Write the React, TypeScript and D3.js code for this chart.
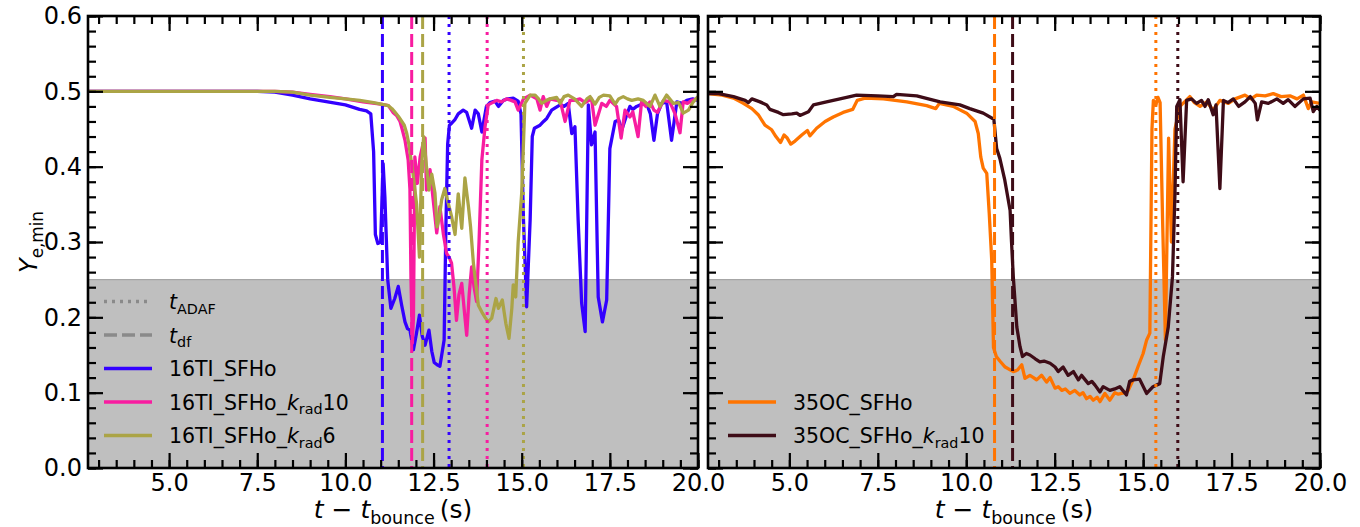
import { useEffect, useRef } from 'react'
import * as d3 from 'd3'

const WIDTH = 1360
const HEIGHT = 527
const TOP = 16
const BOTTOM = 468
const X_DOMAIN: [number, number] = [2.7, 20]
const Y_DOMAIN: [number, number] = [0, 0.6]
const SHADE_MAX = 0.25
const FONT = '"DejaVu Sans", sans-serif'

// tick labels
const X_MAJOR = [5, 7.5, 10, 12.5, 15, 17.5, 20]
const Y_MAJOR = [0, 0.1, 0.2, 0.3, 0.4, 0.5, 0.6]

const BLUE = '#3300ff'
const PINK = '#f81ca0'
const OLIVE = '#aba446'
const ORANGE = '#ff7400'
const MAROON = '#3e0c17'
const GUIDE = '#8a8a8a'

// 16TI_SFHo  (t - t_bounce [s], Ye,min)
const ti16: [number, number][] = [
  [2.7, 0.5], [3.5, 0.5], [4.5, 0.5], [5.5, 0.5], [6.5, 0.5], [7.5, 0.5], [8.0, 0.499],
  [8.5, 0.495], [9.0, 0.49], [9.5, 0.486], [10.0, 0.482], [10.4, 0.476], [10.6, 0.474],
  [10.72, 0.47], [10.8, 0.42], [10.85, 0.31], [10.92, 0.298], [11.0, 0.3], [11.07, 0.404],
  [11.12, 0.36], [11.2, 0.25], [11.29, 0.212], [11.4, 0.225], [11.5, 0.241], [11.6, 0.215],
  [11.69, 0.194], [11.76, 0.185], [11.83, 0.183], [11.88, 0.17], [11.93, 0.157], [12.02, 0.18],
  [12.1, 0.203], [12.18, 0.175], [12.26, 0.163], [12.37, 0.183], [12.45, 0.155], [12.52, 0.14],
  [12.6, 0.137], [12.68, 0.135], [12.8, 0.17], [12.85, 0.32], [12.9, 0.43], [12.95, 0.455],
  [13.02, 0.458], [13.1, 0.462], [13.2, 0.47], [13.34, 0.475], [13.44, 0.472], [13.58, 0.451],
  [13.68, 0.475], [13.77, 0.47], [13.87, 0.446], [14.0, 0.48], [14.1, 0.485], [14.24, 0.487],
  [14.34, 0.48], [14.48, 0.488], [14.6, 0.49], [14.76, 0.491], [14.9, 0.487], [14.98, 0.47],
  [15.05, 0.33], [15.14, 0.214], [15.24, 0.33], [15.3, 0.44], [15.36, 0.451], [15.52, 0.455],
  [15.62, 0.46], [15.71, 0.464], [15.85, 0.475], [15.95, 0.478], [16.09, 0.482], [16.2, 0.48],
  [16.32, 0.484], [16.42, 0.444], [16.51, 0.453], [16.6, 0.33], [16.7, 0.219], [16.8, 0.181],
  [16.89, 0.482], [16.98, 0.429], [17.08, 0.446], [17.17, 0.227], [17.29, 0.194], [17.41, 0.223],
  [17.5, 0.424], [17.65, 0.46], [17.75, 0.462], [17.84, 0.449], [17.98, 0.469], [18.07, 0.48],
  [18.15, 0.476], [18.26, 0.48], [18.4, 0.483], [18.54, 0.484], [18.65, 0.47], [18.75, 0.435],
  [18.85, 0.47], [18.97, 0.484], [19.11, 0.486], [19.25, 0.435], [19.4, 0.486], [19.55, 0.484],
  [19.68, 0.488], [19.85, 0.49], [20.0, 0.488],
]

// 16TI_SFHo_krad10
const ti16k10: [number, number][] = [
  [2.7, 0.5], [4.0, 0.5], [5.5, 0.5], [7.0, 0.5], [8.0, 0.5], [8.5, 0.499], [9.0, 0.496],
  [9.56, 0.493], [10.0, 0.49], [10.5, 0.486], [11.0, 0.483], [11.22, 0.481], [11.35, 0.472],
  [11.45, 0.468], [11.55, 0.46], [11.62, 0.448], [11.69, 0.435], [11.78, 0.409], [11.83, 0.37],
  [11.86, 0.25], [11.9, 0.166], [11.93, 0.2], [11.97, 0.413], [12.04, 0.378], [12.12, 0.413],
  [12.2, 0.43], [12.26, 0.438], [12.3, 0.369], [12.4, 0.396], [12.49, 0.356], [12.59, 0.312],
  [12.68, 0.347], [12.78, 0.31], [12.87, 0.285], [12.94, 0.28], [13.01, 0.272], [13.08, 0.24],
  [13.15, 0.196], [13.22, 0.23], [13.3, 0.245], [13.37, 0.21], [13.44, 0.176], [13.51, 0.23],
  [13.58, 0.267], [13.65, 0.24], [13.72, 0.221], [13.79, 0.3], [13.87, 0.409], [13.96, 0.453],
  [14.05, 0.482], [14.17, 0.485], [14.29, 0.488], [14.43, 0.486], [14.57, 0.49], [14.7, 0.488],
  [14.81, 0.486], [14.9, 0.475], [15.05, 0.49], [15.24, 0.495], [15.43, 0.49], [15.52, 0.475],
  [15.61, 0.493], [15.71, 0.48], [15.8, 0.49], [15.99, 0.488], [16.09, 0.488], [16.23, 0.46],
  [16.37, 0.488], [16.5, 0.488], [16.65, 0.49], [16.8, 0.485], [16.98, 0.49], [17.08, 0.455],
  [17.27, 0.484], [17.4, 0.48], [17.5, 0.488], [17.69, 0.48], [17.82, 0.438], [17.93, 0.475],
  [18.07, 0.466], [18.15, 0.473], [18.3, 0.44], [18.4, 0.486], [18.52, 0.48], [18.64, 0.486],
  [18.75, 0.475], [18.85, 0.472], [19.02, 0.488], [19.2, 0.486], [19.35, 0.47], [19.49, 0.445],
  [19.58, 0.486], [19.7, 0.484], [19.82, 0.488], [20.0, 0.49],
]

// 16TI_SFHo_krad6
const ti16k6: [number, number][] = [
  [2.7, 0.5], [4.0, 0.5], [5.5, 0.5], [7.0, 0.5], [8.0, 0.5], [8.5, 0.499], [9.0, 0.495],
  [9.56, 0.492], [10.0, 0.49], [10.41, 0.488], [10.8, 0.485], [11.22, 0.481], [11.32, 0.477],
  [11.41, 0.472], [11.5, 0.467], [11.6, 0.46], [11.67, 0.455], [11.74, 0.444], [11.8, 0.43],
  [11.86, 0.41], [11.92, 0.39], [11.97, 0.37], [12.02, 0.35], [12.1, 0.28], [12.16, 0.4],
  [12.22, 0.44], [12.27, 0.415], [12.3, 0.4], [12.37, 0.369], [12.45, 0.39], [12.54, 0.365],
  [12.6, 0.32], [12.67, 0.335], [12.73, 0.356], [12.82, 0.371], [12.92, 0.351], [13.01, 0.334],
  [13.11, 0.31], [13.2, 0.364], [13.3, 0.318], [13.39, 0.385], [13.49, 0.347], [13.55, 0.32],
  [13.63, 0.272], [13.72, 0.236], [13.77, 0.216], [13.87, 0.207], [13.96, 0.2], [14.05, 0.194],
  [14.15, 0.199], [14.27, 0.225], [14.34, 0.212], [14.45, 0.223], [14.55, 0.192], [14.64, 0.172],
  [14.72, 0.212], [14.76, 0.243], [14.83, 0.227], [14.9, 0.3], [15.0, 0.365], [15.09, 0.484],
  [15.24, 0.495], [15.38, 0.495], [15.48, 0.49], [15.57, 0.484], [15.7, 0.488], [15.8, 0.49],
  [15.99, 0.492], [16.09, 0.484], [16.2, 0.493], [16.32, 0.495], [16.5, 0.49], [16.7, 0.48],
  [16.85, 0.49], [16.94, 0.493], [17.08, 0.483], [17.2, 0.492], [17.32, 0.495], [17.5, 0.494],
  [17.65, 0.483], [17.75, 0.49], [17.88, 0.493], [18.0, 0.49], [18.12, 0.488], [18.3, 0.49],
  [18.45, 0.488], [18.64, 0.48], [18.78, 0.495], [18.92, 0.48], [19.11, 0.495], [19.3, 0.484],
  [19.45, 0.485], [19.58, 0.471], [19.73, 0.475], [19.85, 0.485], [20.0, 0.493],
]

// 35OC_SFHo
const oc35: [number, number][] = [
  [2.7, 0.497], [3.1, 0.495], [3.42, 0.491], [3.7, 0.484], [3.94, 0.477], [4.12, 0.469],
  [4.31, 0.455], [4.5, 0.449], [4.62, 0.44], [4.75, 0.432], [4.85, 0.442], [4.94, 0.438],
  [5.04, 0.43], [5.16, 0.434], [5.35, 0.442], [5.51, 0.448], [5.58, 0.441], [5.77, 0.451],
  [6.01, 0.46], [6.24, 0.466], [6.52, 0.472], [6.79, 0.476], [6.92, 0.488], [7.14, 0.491],
  [7.66, 0.49], [8.32, 0.486], [8.88, 0.481], [9.14, 0.477], [9.24, 0.484], [9.63, 0.48],
  [10.01, 0.471], [10.25, 0.46], [10.34, 0.444], [10.41, 0.413], [10.48, 0.398], [10.58, 0.391],
  [10.65, 0.338], [10.72, 0.276], [10.77, 0.16], [10.85, 0.148], [10.95, 0.142], [11.1, 0.134],
  [11.33, 0.128], [11.45, 0.13], [11.57, 0.137], [11.66, 0.119], [11.8, 0.123], [11.9, 0.12],
  [11.99, 0.117], [12.13, 0.123], [12.27, 0.114], [12.37, 0.12], [12.51, 0.106], [12.6, 0.108],
  [12.7, 0.103], [12.8, 0.105], [12.93, 0.099], [13.07, 0.103], [13.21, 0.097], [13.3, 0.1],
  [13.4, 0.092], [13.5, 0.095], [13.59, 0.09], [13.7, 0.094], [13.78, 0.088], [13.92, 0.099],
  [14.06, 0.09], [14.2, 0.1], [14.3, 0.098], [14.39, 0.099], [14.5, 0.1], [14.58, 0.103],
  [14.72, 0.117], [14.86, 0.135], [15.0, 0.152], [15.1, 0.17], [15.19, 0.179], [15.25, 0.45],
  [15.29, 0.488], [15.36, 0.482], [15.42, 0.492], [15.48, 0.485], [15.55, 0.33], [15.63, 0.17],
  [15.72, 0.438], [15.8, 0.3], [15.9, 0.45], [16.04, 0.48], [16.15, 0.485], [16.32, 0.493],
  [16.45, 0.485], [16.61, 0.48], [16.8, 0.486], [16.98, 0.475], [17.17, 0.488], [17.41, 0.484],
  [17.6, 0.49], [17.88, 0.495], [18.05, 0.49], [18.21, 0.495], [18.45, 0.494], [18.68, 0.497],
  [18.9, 0.493], [19.15, 0.494], [19.35, 0.49], [19.53, 0.495], [19.67, 0.477], [19.76, 0.486],
  [20.0, 0.484],
]

// 35OC_SFHo_krad10
const oc35k10: [number, number][] = [
  [2.7, 0.497], [3.0, 0.497], [3.42, 0.493], [3.75, 0.488], [3.84, 0.485], [3.94, 0.49],
  [4.17, 0.486], [4.36, 0.482], [4.45, 0.476], [4.69, 0.472], [4.83, 0.469], [5.07, 0.47],
  [5.21, 0.471], [5.3, 0.468], [5.54, 0.473], [5.68, 0.482], [6.05, 0.486], [6.43, 0.49],
  [6.9, 0.495], [7.5, 0.494], [7.94, 0.493], [8.03, 0.496], [8.6, 0.494], [9.26, 0.486],
  [9.82, 0.482], [10.1, 0.477], [10.48, 0.471], [10.78, 0.463], [10.86, 0.424], [10.95, 0.411],
  [11.09, 0.382], [11.24, 0.342], [11.28, 0.3], [11.33, 0.254], [11.43, 0.187], [11.52, 0.161],
  [11.59, 0.148], [11.7, 0.152], [11.8, 0.15], [11.95, 0.145], [12.08, 0.141], [12.2, 0.142],
  [12.37, 0.139], [12.51, 0.134], [12.6, 0.128], [12.74, 0.134], [12.88, 0.123], [13.03, 0.128],
  [13.17, 0.117], [13.26, 0.123], [13.45, 0.112], [13.55, 0.115], [13.64, 0.11], [13.78, 0.101],
  [13.87, 0.108], [14.06, 0.103], [14.2, 0.105], [14.34, 0.108], [14.53, 0.097], [14.62, 0.115],
  [14.72, 0.117], [14.9, 0.118], [15.1, 0.099], [15.28, 0.108], [15.47, 0.112], [15.57, 0.148],
  [15.71, 0.187], [15.83, 0.254], [15.9, 0.364], [15.95, 0.48], [16.04, 0.489], [16.13, 0.38],
  [16.23, 0.488], [16.37, 0.49], [16.51, 0.484], [16.65, 0.488], [16.75, 0.48], [16.84, 0.489],
  [16.98, 0.469], [17.06, 0.482], [17.17, 0.371], [17.27, 0.488], [17.4, 0.485], [17.55, 0.49],
  [17.7, 0.48], [17.88, 0.486], [18.03, 0.493], [18.17, 0.484], [18.23, 0.462], [18.35, 0.486],
  [18.54, 0.484], [18.78, 0.49], [18.96, 0.484], [19.1, 0.489], [19.29, 0.48], [19.53, 0.49],
  [19.72, 0.491], [19.81, 0.473], [19.91, 0.48], [20.0, 0.475],
]

// characteristic times (s)
const tDfLeft = [11.05, 11.88, 12.19]
const tAdafLeft = [12.94, 14.02, 15.05]
const tDfRight = [10.8, 11.31]
const tAdafRight = [15.36, 15.98]

type Part = { text: string; italic?: boolean; sub?: boolean }

const kRad = (n: string): Part[] => [
  { text: '16TI_SFHo_' }, { text: 'k', italic: true }, { text: 'rad', sub: true }, { text: n },
]

const panels = [
  {
    left: 88,
    right: 698,
    showYLabels: true,
    series: [
      { data: ti16, color: BLUE },
      { data: ti16k10, color: PINK },
      { data: ti16k6, color: OLIVE },
    ],
    tDf: tDfLeft.map((t, i) => ({ t, color: [BLUE, PINK, OLIVE][i] })),
    tAdaf: tAdafLeft.map((t, i) => ({ t, color: [BLUE, PINK, OLIVE][i] })),
    legend: {
      x: 104,
      y: 301.5,
      items: [
        { color: GUIDE, dash: '3,5', parts: [{ text: 't', italic: true }, { text: 'ADAF', sub: true }] as Part[] },
        { color: GUIDE, dash: '13,5', parts: [{ text: 't', italic: true }, { text: 'df', sub: true }] as Part[] },
        { color: BLUE, dash: null, parts: [{ text: '16TI_SFHo' }] as Part[] },
        { color: PINK, dash: null, parts: kRad('10') },
        { color: OLIVE, dash: null, parts: kRad('6') },
      ],
    },
  },
  {
    left: 708,
    right: 1320,
    showYLabels: false,
    series: [
      { data: oc35, color: ORANGE },
      { data: oc35k10, color: MAROON },
    ],
    tDf: tDfRight.map((t, i) => ({ t, color: [ORANGE, MAROON][i] })),
    tAdaf: tAdafRight.map((t, i) => ({ t, color: [ORANGE, MAROON][i] })),
    legend: {
      x: 728,
      y: 402,
      items: [
        { color: ORANGE, dash: null, parts: [{ text: '35OC_SFHo' }] as Part[] },
        {
          color: MAROON,
          dash: null,
          parts: [{ text: '35OC_SFHo_' }, { text: 'k', italic: true }, { text: 'rad', sub: true }, { text: '10' }] as Part[],
        },
      ],
    },
  },
]

function richText(sel: any, parts: Part[], fs: number) {
  let inSub = false
  const shift = fs * 0.24
  parts.forEach(p => {
    const ts = sel.append('tspan').text(p.text)
    if (p.italic) ts.attr('font-style', 'italic')
    if (p.sub) {
      ts.attr('font-size', fs * 0.7)
      if (!inSub) ts.attr('dy', shift)
      inSub = true
    } else if (inSub) {
      ts.attr('dy', -shift)
      inSub = false
    }
  })
}

export default function App() {
  const svgRef = useRef<SVGSVGElement | null>(null)

  useEffect(() => {
    if (!svgRef.current) return
    const svg = d3.select(svgRef.current)
    svg.selectAll('*').remove()

    const y = d3.scaleLinear().domain(Y_DOMAIN).range([BOTTOM, TOP])
    const yMinor = d3.range(0, 0.6001, 0.02)
    const xMinor = d3.range(3, 20.001, 0.5)

    panels.forEach((p, pi) => {
      const x = d3.scaleLinear().domain(X_DOMAIN).range([p.left, p.right])
      const w = p.right - p.left
      const g = svg.append('g')

      const clipId = `clip-${pi}`
      svg.append('clipPath').attr('id', clipId)
        .append('rect').attr('x', p.left).attr('y', TOP).attr('width', w).attr('height', BOTTOM - TOP)

      // shaded neutron-rich region
      g.append('rect')
        .attr('x', p.left).attr('y', y(SHADE_MAX))
        .attr('width', w).attr('height', y(0) - y(SHADE_MAX))
        .attr('fill', '#bfbfbf')
      g.append('line')
        .attr('x1', p.left).attr('x2', p.right)
        .attr('y1', y(SHADE_MAX)).attr('y2', y(SHADE_MAX))
        .attr('stroke', '#a6a6a6').attr('stroke-width', 1.2)

      const line = d3.line<[number, number]>().x(d => x(d[0])).y(d => y(d[1]))
      const plot = g.append('g').attr('clip-path', `url(#${clipId})`)

      p.series.forEach(s => {
        plot.append('path')
          .attr('d', line(s.data))
          .attr('fill', 'none')
          .attr('stroke', s.color)
          .attr('stroke-width', 3.3)
          .attr('stroke-linejoin', 'round')
      })

      const vline = (t: number, color: string, dash: string) =>
        plot.append('line')
          .attr('x1', x(t)).attr('x2', x(t)).attr('y1', TOP).attr('y2', BOTTOM)
          .attr('stroke', color).attr('stroke-width', 3).attr('stroke-dasharray', dash)
      p.tDf.forEach(v => vline(v.t, v.color, '13,5'))
      p.tAdaf.forEach(v => vline(v.t, v.color, '3,5'))

      // axes: inward ticks on all four sides
      const styleAxis = (a: any) => {
        a.select('.domain').remove()
        a.selectAll('line').attr('stroke', '#000').attr('stroke-width', 2.2)
        a.selectAll('text').attr('font-family', FONT).attr('font-size', 24).attr('fill', '#000')
      }
      g.append('g').attr('transform', `translate(0,${BOTTOM})`)
        .call(d3.axisBottom(x).tickValues(X_MAJOR).tickSizeInner(-15).tickSizeOuter(0).tickPadding(6).tickFormat(d3.format('.1f')))
        .call(styleAxis)
      g.append('g').attr('transform', `translate(0,${BOTTOM})`)
        .call(d3.axisBottom(x).tickValues(xMinor).tickSize(-8).tickFormat(() => ''))
        .call(styleAxis)
      g.append('g').attr('transform', `translate(0,${TOP})`)
        .call(d3.axisTop(x).tickValues(X_MAJOR).tickSize(-15).tickFormat(() => ''))
        .call(styleAxis)
      g.append('g').attr('transform', `translate(0,${TOP})`)
        .call(d3.axisTop(x).tickValues(xMinor).tickSize(-8).tickFormat(() => ''))
        .call(styleAxis)
      g.append('g').attr('transform', `translate(${p.left},0)`)
        .call(d3.axisLeft(y).tickValues(Y_MAJOR).tickSizeInner(-15).tickSizeOuter(0).tickPadding(6)
          .tickFormat(p.showYLabels ? d3.format('.1f') : () => ''))
        .call(styleAxis)
      g.append('g').attr('transform', `translate(${p.left},0)`)
        .call(d3.axisLeft(y).tickValues(yMinor).tickSize(-8).tickFormat(() => ''))
        .call(styleAxis)
      g.append('g').attr('transform', `translate(${p.right},0)`)
        .call(d3.axisRight(y).tickValues(Y_MAJOR).tickSize(-15).tickFormat(() => ''))
        .call(styleAxis)
      g.append('g').attr('transform', `translate(${p.right},0)`)
        .call(d3.axisRight(y).tickValues(yMinor).tickSize(-8).tickFormat(() => ''))
        .call(styleAxis)

      // frame
      g.append('rect')
        .attr('x', p.left).attr('y', TOP).attr('width', w).attr('height', BOTTOM - TOP)
        .attr('fill', 'none').attr('stroke', '#000').attr('stroke-width', 2.6)

      // x label
      const xl = g.append('text')
        .attr('x', (p.left + p.right) / 2).attr('y', 518)
        .attr('text-anchor', 'middle')
        .attr('font-family', FONT).attr('font-size', 25)
      richText(xl, [
        { text: 't', italic: true }, { text: ' \u2212 ' }, { text: 't', italic: true },
        { text: 'bounce', sub: true }, { text: '\u2009(s)' },
      ], 25)

      // legend
      const lg = g.append('g')
      p.legend.items.forEach((it, i) => {
        const ly = p.legend.y + i * 33.5
        lg.append('line')
          .attr('x1', p.legend.x).attr('x2', p.legend.x + 48)
          .attr('y1', ly).attr('y2', ly)
          .attr('stroke', it.color).attr('stroke-width', 3.3)
          .attr('stroke-dasharray', it.dash)
        const tx = lg.append('text')
          .attr('x', p.legend.x + 65).attr('y', ly + 7.5)
          .attr('font-family', FONT).attr('font-size', 20.5).attr('fill', '#000')
        richText(tx, it.parts, 20.5)
      })
    })

    // y label
    const yl = svg.append('text')
      .attr('transform', `translate(37,${(TOP + BOTTOM) / 2}) rotate(-90)`)
      .attr('text-anchor', 'middle')
      .attr('font-family', FONT).attr('font-size', 24)
    richText(yl, [{ text: 'Y', italic: true }, { text: 'e,min', sub: true }], 24)
  }, [])

  return (
    <svg
      ref={svgRef}
      width={WIDTH}
      height={HEIGHT}
      style={{ position: 'absolute', left: 0, top: 0, background: '#fff' }}
    />
  )
}
